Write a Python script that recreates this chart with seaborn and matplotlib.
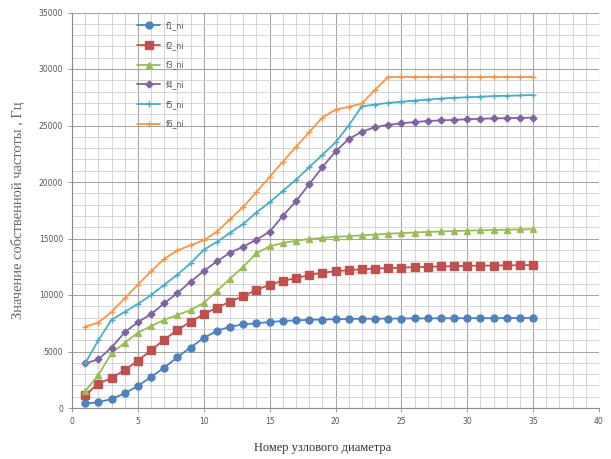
import numpy as np
import pandas as pd
import matplotlib
matplotlib.use("Agg")
import matplotlib.pyplot as plt
import seaborn as sns
from matplotlib.ticker import MultipleLocator

nodes = list(range(1, 36))

f1 = [400, 500, 800, 1300, 1950, 2750, 3570, 4500, 5350, 6200, 6820, 7200, 7400, 7500, 7600,
      7700, 7750, 7800, 7830, 7860, 7880, 7900, 7900, 7910, 7920, 7930, 7930, 7940, 7940, 7950,
      7950, 7950, 7960, 7960, 7960]
f2 = [1150, 2150, 2650, 3360, 4190, 5100, 6050, 6900, 7640, 8300, 8880, 9410, 9900, 10450, 10900,
      11270, 11480, 11770, 11970, 12100, 12200, 12280, 12330, 12380, 12420, 12460, 12500, 12530, 12550, 12580,
      12600, 12610, 12620, 12630, 12650]
f3 = [1500, 2920, 4840, 5780, 6660, 7250, 7800, 8230, 8670, 9300, 10350, 11450, 12500, 13700, 14300,
      14600, 14800, 14950, 15050, 15150, 15200, 15280, 15350, 15420, 15480, 15530, 15580, 15620, 15660, 15700,
      15720, 15750, 15780, 15800, 15820]
f4 = [3950, 4300, 5350, 6700, 7600, 8300, 9270, 10170, 11180, 12120, 12980, 13750, 14280, 14900, 15600,
      17000, 18300, 19800, 21300, 22700, 23800, 24450, 24850, 25050, 25200, 25300, 25400, 25450, 25500, 25550,
      25600, 25620, 25650, 25670, 25700]
f5 = [3950, 6000, 7800, 8500, 9200, 10000, 10900, 11800, 12800, 14000, 14700, 15500, 16300, 17300, 18200,
      19200, 20200, 21300, 22400, 23500, 25000, 26700, 26850, 27000, 27100, 27200, 27300, 27380, 27450, 27500,
      27550, 27600, 27630, 27660, 27700]
f6 = [7200, 7550, 8500, 9700, 10900, 12100, 13200, 13950, 14400, 14850, 15600, 16700, 17800, 19100, 20450,
      21800, 23100, 24400, 25700, 26400, 26650, 26950, 28150, 29300, 29300, 29300, 29300, 29300, 29300, 29300,
      29300, 29300, 29300, 29300, 29300]

labels = ["f1_ni", "f2_ni", "f3_ni", "f4_ni", "f5_ni", "f6_ni"]
series = [f1, f2, f3, f4, f5, f6]
colors = ["#4F81BD", "#C0504D", "#9BBB59", "#8064A2", "#4BACC6", "#F79646"]
markers = ["o", "s", "^", "D", "+", "+"]
msizes = [5, 5.5, 5, 3.5, 4, 5]

x_ticks = [0, 5, 10, 15, 20, 25, 30, 35, 40]
y_ticks = [0, 5000, 10000, 15000, 20000, 25000, 30000, 35000]

sns.set_theme(style="white")
plt.rcParams['font.family'] = ['DejaVu Sans']

fig = plt.figure(figsize=(6.11, 4.59), dpi=100)
ax = fig.add_axes([72/611, 51/459, 527/611, 395.5/459])

for lab, vals, c, m, ms in zip(labels, series, colors, markers, msizes):
    df = pd.DataFrame({"x": nodes, "y": vals})
    sns.lineplot(data=df, x="x", y="y", ax=ax, color=c, marker=m, markersize=ms,
                 markeredgecolor=c, markeredgewidth=1.0,
                 linewidth=1.3, label=lab)

ax.set_xlim(0, 40)
ax.set_ylim(0, 35000)
ax.set_xticks(x_ticks)
ax.set_yticks(y_ticks)
ax.xaxis.set_minor_locator(MultipleLocator(1))
ax.yaxis.set_minor_locator(MultipleLocator(1000))
ax.grid(which="major", color="#a6a6a6", linewidth=0.8)
ax.grid(which="minor", color="#cfcfcf", linewidth=0.6)
ax.set_axisbelow(True)
for s in ["top", "right"]:
    ax.spines[s].set_visible(False)
for s in ["left", "bottom"]:
    ax.spines[s].set_color("#8c8c8c")
    ax.spines[s].set_linewidth(0.8)
ax.tick_params(axis="both", which="major", labelsize=5.5, colors="#8c8c8c",
               labelcolor="#555555", length=3, width=0.6, direction="out",
               left=True, bottom=True)
ax.tick_params(which="minor", length=0)

ax.set_xlabel("Номер узлового диаметра", fontsize=9, family="Liberation Serif",
              color="#333333")
ax.xaxis.set_label_coords(0.476, -0.085)
ax.set_ylabel("Значение собственной частоты , Гц", fontsize=10.5, family="Liberation Serif",
              color="#666666", labelpad=10)

leg = ax.legend(loc="upper left", bbox_to_anchor=(0.115, 0.99), frameon=False,
                fontsize=5.5, handlelength=3, labelspacing=1.4, borderaxespad=0.2)
for t in leg.get_texts():
    t.set_color("#555555")

fig.savefig("out.png", dpi=100)
